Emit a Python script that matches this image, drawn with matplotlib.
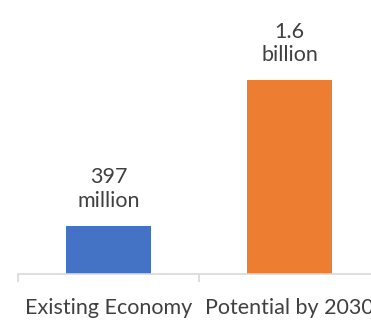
import matplotlib
matplotlib.use("Agg")
import matplotlib.pyplot as plt

categories = ["Existing Economy", "Potential by 2030"]
values = [397, 1600]  # millions
value_labels = ["397\nmillion", "1.6\nbillion"]
colors = ["#4472C4", "#ED7D31"]

W, H = 371, 320
fig = plt.figure(figsize=(W / 100, H / 100), dpi=100)
plt.rcParams['font.family'] = ['Lato', 'DejaVu Sans']

# axes spans x 18..380 px, y bottom at 274 px from top
left, right = 18, 380
bottom_px = 274
ax = fig.add_axes([left / W, (H - bottom_px) / H, (right - left) / W, bottom_px / H])
x = range(len(categories))
ax.bar(x, values, width=0.475, color=colors)
ax.set_xlim(-0.5, 1.5)
ax.set_ylim(0, 1600 * bottom_px / 194)

for xi, v, lab in zip(x, values, value_labels):
    ax.annotate(lab, (xi, v), xytext=(0, 11), textcoords="offset points",
                ha="center", va="bottom", fontsize=15.5, color="#404040",
                linespacing=1.2)

for s in ["top", "right", "left"]:
    ax.spines[s].set_visible(False)
ax.spines["bottom"].set_color("#D9D9D9")
ax.spines["bottom"].set_linewidth(1.2)
ax.set_yticks([])
ax.set_xticks([-0.5, 0.5, 1.5])
ax.set_xticklabels([])
ax.tick_params(axis="x", length=6, color="#D9D9D9", width=1.2)
ax.set_xticks(list(x), minor=True)
ax.set_xticklabels(categories, minor=True, fontsize=15.5, color="#404040")
ax.tick_params(axis="x", which="minor", length=0, pad=17)

fig.savefig("out.png", dpi=100)
